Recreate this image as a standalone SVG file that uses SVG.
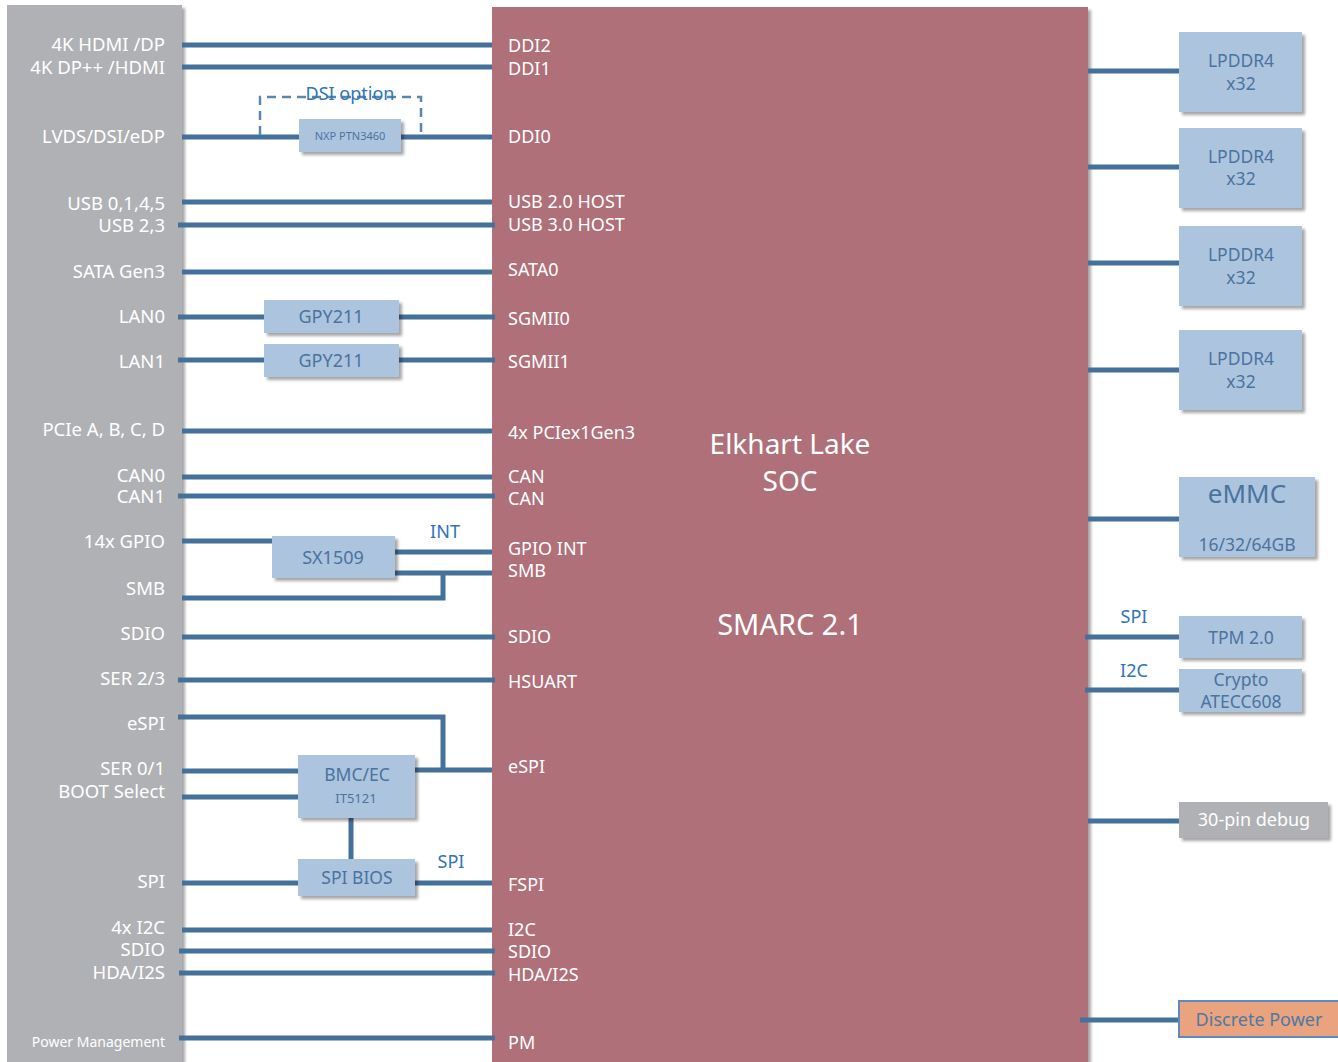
<svg xmlns="http://www.w3.org/2000/svg" width="1338" height="1062" viewBox="0 0 1338 1062">
<defs>
<filter id="sh" x="-10%" y="-10%" width="130%" height="140%">
<feGaussianBlur in="SourceAlpha" stdDeviation="1.5"/>
<feOffset dx="3" dy="3" result="b"/>
<feComponentTransfer><feFuncA type="linear" slope="0.35"/></feComponentTransfer>
<feMerge><feMergeNode/><feMergeNode in="SourceGraphic"/></feMerge>
</filter>
</defs>
<style>
text{font-family:"Noto Sans","Open Sans",sans-serif}
.w{fill:#ffffff;font-size:18px}
.l{text-anchor:end;font-size:18.5px}
.c{text-anchor:middle}
.b{fill:#4a73a0;font-size:17.5px;text-anchor:middle}
.bl{fill:#2e75b6;font-size:18px;text-anchor:middle}
.box{fill:#adc4de}
.ln{stroke:#44719a;stroke-width:5;fill:none}
</style>
<rect width="1338" height="1062" fill="#ffffff"/>
<g id="edge-panel">
<rect x="7" y="5" width="175" height="1060" fill="#b0b1b5" filter="url(#sh)"/>
<text class="w l" x="165" y="51">4K HDMI /DP</text>
<text class="w l" x="165" y="74">4K DP++ /HDMI</text>
<text class="w l" x="165" y="143">LVDS/DSI/eDP</text>
<text class="w l" x="165" y="210">USB 0,1,4,5</text>
<text class="w l" x="165" y="232">USB 2,3</text>
<text class="w l" x="165" y="278">SATA Gen3</text>
<text class="w l" x="165" y="323">LAN0</text>
<text class="w l" x="165" y="368">LAN1</text>
<text class="w l" x="165" y="436">PCIe A, B, C, D</text>
<text class="w l" x="165" y="482">CAN0</text>
<text class="w l" x="165" y="503">CAN1</text>
<text class="w l" x="165" y="548">14x GPIO</text>
<text class="w l" x="165" y="595">SMB</text>
<text class="w l" x="165" y="640">SDIO</text>
<text class="w l" x="165" y="685">SER 2/3</text>
<text class="w l" x="165" y="730">eSPI</text>
<text class="w l" x="165" y="775">SER 0/1</text>
<text class="w l" x="165" y="798">BOOT Select</text>
<text class="w l" x="165" y="888">SPI</text>
<text class="w l" x="165" y="934">4x I2C</text>
<text class="w l" x="165" y="956">SDIO</text>
<text class="w l" x="165" y="979">HDA/I2S</text>
<text class="w l" x="165" y="1047" style="font-size:14px">Power Management</text>
</g>
<g id="soc">
<rect x="492" y="7" width="596" height="1060" fill="#b0707a" filter="url(#sh)"/>
<text class="w" x="508" y="52">DDI2</text>
<text class="w" x="508" y="75">DDI1</text>
<text class="w" x="508" y="143">DDI0</text>
<text class="w" x="508" y="208">USB 2.0 HOST</text>
<text class="w" x="508" y="231">USB 3.0 HOST</text>
<text class="w" x="508" y="276">SATA0</text>
<text class="w" x="508" y="325">SGMII0</text>
<text class="w" x="508" y="368">SGMII1</text>
<text class="w" x="508" y="439">4x PCIex1Gen3</text>
<text class="w" x="508" y="483">CAN</text>
<text class="w" x="508" y="505">CAN</text>
<text class="w" x="508" y="555">GPIO INT</text>
<text class="w" x="508" y="577">SMB</text>
<text class="w" x="508" y="643">SDIO</text>
<text class="w" x="508" y="688">HSUART</text>
<text class="w" x="508" y="773">eSPI</text>
<text class="w" x="508" y="891">FSPI</text>
<text class="w" x="508" y="936">I2C</text>
<text class="w" x="508" y="958">SDIO</text>
<text class="w" x="508" y="981">HDA/I2S</text>
<text class="w" x="508" y="1049">PM</text>
<text class="w c" x="790" y="454" style="font-size:28px">Elkhart Lake</text>
<text class="w c" x="790" y="491" style="font-size:28px">SOC</text>
<text class="w c" x="790" y="635" style="font-size:29px">SMARC 2.1</text>
</g>
<g id="connectors">
<path class="ln" d="M182 45H492M182 67H492M182 137H299M401 137H492M182 202H492M178 225H495M182 272H492M178 317H264M399 317H495M178 360H264M399 360H495M182 431H492M182 477H492M178 496H495M182 541H272M395 552H492M395 573H492M443 571V598H182M182 637H495M178 680H495M178 717H443V770M415 770H492M182 771H298M182 797H298M351 818V859M182 883H298M415 883H492M182 930H492M179 951H495M179 973H495M179 1038H495"/>
<path class="ln" d="M1088 71H1179M1088 167H1179M1088 263H1179M1088 370H1179M1088 519H1179M1085 637H1179M1085 690H1179M1088 821H1179M1080 1020H1178"/>
</g>
<g id="dsi-option">
<path d="M260 135V97H421V135" fill="none" stroke="#5b86b0" stroke-width="2.5" stroke-dasharray="9,6"/>
<text x="350" y="100" style="fill:#2e75b6;font-size:18px;text-anchor:middle">DSI option</text>
</g>
<g id="ptn3460"><rect class="box" x="299" y="119" width="102" height="33" filter="url(#sh)"/><text class="b" x="350" y="140" style="font-size:11px">NXP PTN3460</text></g>
<g id="gpy211-0"><rect class="box" x="264" y="300" width="135" height="33" filter="url(#sh)"/><text class="b" x="331" y="323" style="font-size:18px">GPY211</text></g>
<g id="gpy211-1"><rect class="box" x="264" y="344" width="135" height="33" filter="url(#sh)"/><text class="b" x="331" y="367" style="font-size:18px">GPY211</text></g>
<g id="sx1509"><rect class="box" x="272" y="536" width="123" height="42" filter="url(#sh)"/><text class="b" x="333" y="564" style="font-size:18px">SX1509</text></g>
<text class="bl" x="445" y="538">INT</text>
<g id="bmc"><rect class="box" x="298" y="755" width="117" height="63" filter="url(#sh)"/><text class="b" x="357" y="781">BMC/EC</text><text class="b" x="356" y="803" style="font-size:13px">IT5121</text></g>
<g id="spibios"><rect class="box" x="298" y="859" width="117" height="37" filter="url(#sh)"/><text class="b" x="357" y="884">SPI BIOS</text></g>
<text class="bl" x="451" y="868">SPI</text>
<g id="lpddr1"><rect class="box" x="1179" y="32" width="123" height="80" filter="url(#sh)"/><text class="b" x="1241" y="67">LPDDR4</text><text class="b" x="1241" y="90">x32</text></g>
<g id="lpddr2"><rect class="box" x="1179" y="128" width="123" height="80" filter="url(#sh)"/><text class="b" x="1241" y="163">LPDDR4</text><text class="b" x="1241" y="185">x32</text></g>
<g id="lpddr3"><rect class="box" x="1179" y="226" width="123" height="80" filter="url(#sh)"/><text class="b" x="1241" y="261">LPDDR4</text><text class="b" x="1241" y="284">x32</text></g>
<g id="lpddr4"><rect class="box" x="1179" y="330" width="123" height="80" filter="url(#sh)"/><text class="b" x="1241" y="365">LPDDR4</text><text class="b" x="1241" y="388">x32</text></g>
<g id="emmc"><rect class="box" x="1179" y="477" width="136" height="80" filter="url(#sh)"/><text class="b" x="1247" y="503" style="font-size:26px">eMMC</text><text class="b" x="1247" y="551">16/32/64GB</text></g>
<text class="bl" x="1134" y="623">SPI</text>
<g id="tpm"><rect class="box" x="1179" y="616" width="123" height="42" filter="url(#sh)"/><text class="b" x="1241" y="644">TPM 2.0</text></g>
<text class="bl" x="1134" y="677">I2C</text>
<g id="crypto"><rect class="box" x="1179" y="669" width="123" height="43" filter="url(#sh)"/><text class="b" x="1241" y="686">Crypto</text><text class="b" x="1241" y="708">ATECC608</text></g>
<g id="debug"><rect x="1179" y="802" width="149" height="36" fill="#b0b1b5" filter="url(#sh)"/><text x="1254" y="826" style="fill:#ffffff;font-size:18px;text-anchor:middle">30-pin debug</text></g>
<g id="power"><rect x="1179" y="1001" width="160" height="36" fill="#e9a47f" stroke="#5b8ac4" stroke-width="2"/><text x="1259" y="1026" style="fill:#4d79a3;font-size:18px;text-anchor:middle">Discrete Power</text></g>
</svg>
